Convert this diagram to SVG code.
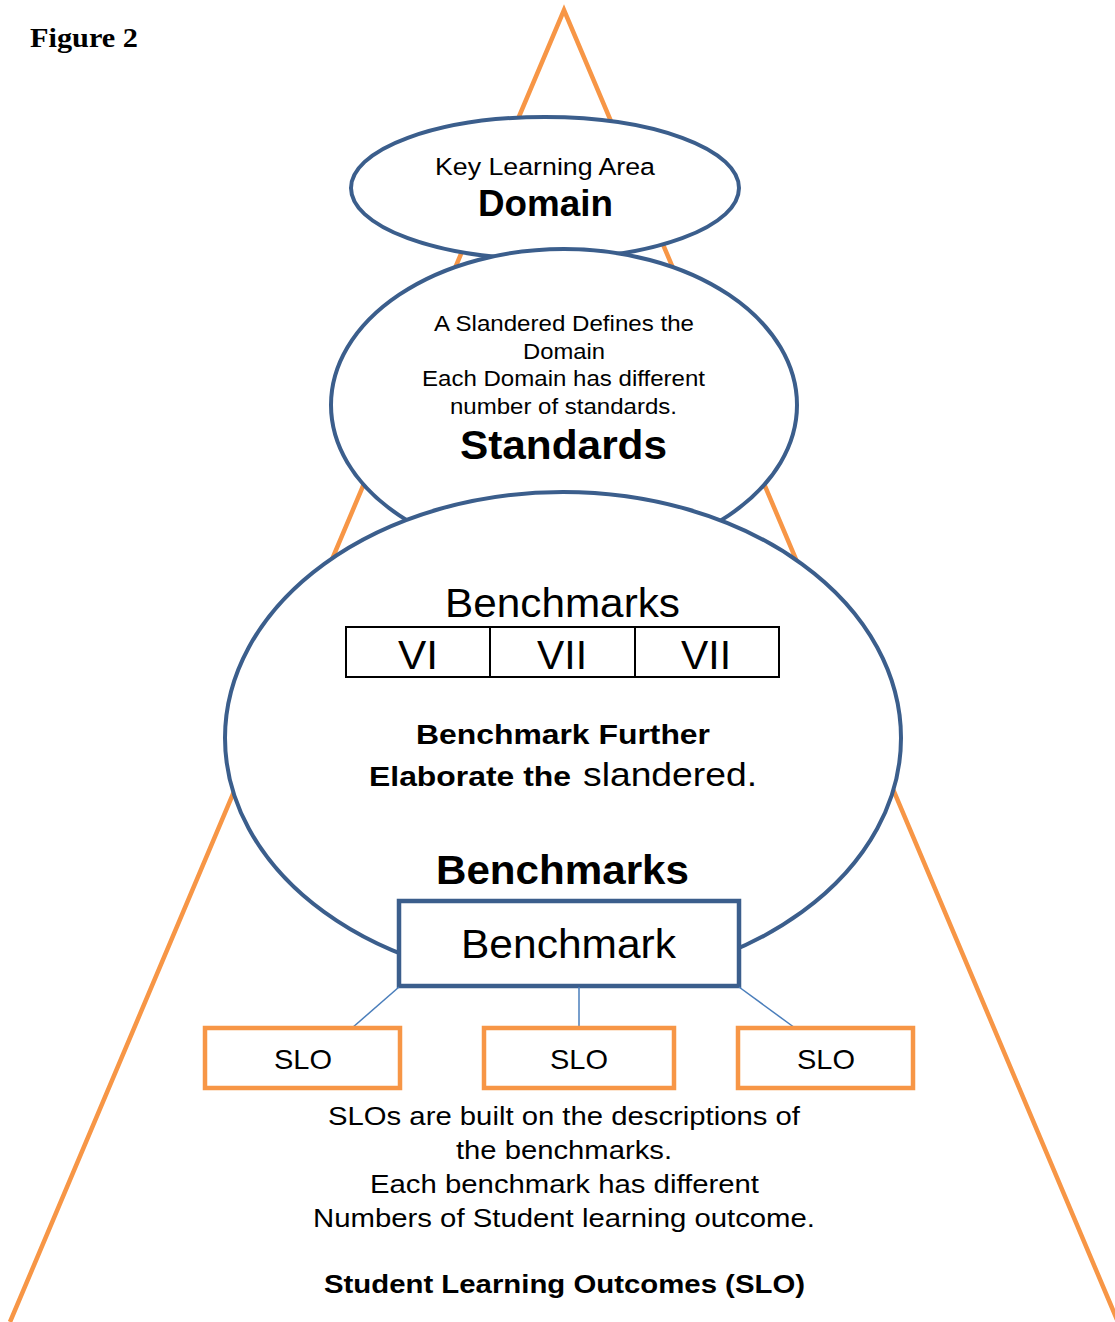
<svg xmlns="http://www.w3.org/2000/svg" width="1115" height="1322" viewBox="0 0 1115 1322">
<style>
.ell{fill:#fff;stroke:#3B5E8C;stroke-width:4}
.slo{fill:#fff;stroke:#F79646;stroke-width:4.5}
.t{font-family:"Liberation Sans",Arial,sans-serif;fill:#000}
.b{font-weight:bold}
.conn{stroke:#4A7EBB;stroke-width:1.5;fill:none}
</style>
<rect width="1115" height="1322" fill="#fff"/>
<text x="30" y="47" font-family="'Liberation Serif','Times New Roman',serif" font-weight="bold" font-size="27" textLength="108" lengthAdjust="spacingAndGlyphs">Figure 2</text>
<g id="pyramid">
<polyline points="10,1322 564,10 1118,1322" fill="none" stroke="#F79646" stroke-width="4.5" stroke-linejoin="miter"/>
</g>
<g id="domain">
<ellipse class="ell" cx="545" cy="188" rx="194" ry="71"/>
<text class="t" x="435" y="175" font-size="24.5" textLength="220" lengthAdjust="spacingAndGlyphs">Key Learning Area</text>
<text class="t b" x="478" y="216" font-size="36" textLength="135" lengthAdjust="spacingAndGlyphs">Domain</text>
</g>
<g id="standards">
<ellipse class="ell" cx="564" cy="405" rx="233" ry="156"/>
<text class="t" x="434" y="331" font-size="21.5" textLength="260" lengthAdjust="spacingAndGlyphs">A Slandered Defines the</text>
<text class="t" x="523" y="359" font-size="21.5" textLength="82" lengthAdjust="spacingAndGlyphs">Domain</text>
<text class="t" x="422" y="386" font-size="21.5" textLength="283" lengthAdjust="spacingAndGlyphs">Each Domain has different</text>
<text class="t" x="450" y="414" font-size="21.5" textLength="227" lengthAdjust="spacingAndGlyphs">number of standards.</text>
<text class="t b" x="460" y="459" font-size="40" textLength="207" lengthAdjust="spacingAndGlyphs">Standards</text>
</g>
<g id="benchmarks">
<ellipse class="ell" cx="563" cy="738" rx="338" ry="246"/>
<text class="t" x="445" y="617" font-size="40" textLength="235" lengthAdjust="spacingAndGlyphs">Benchmarks</text>
<rect x="346" y="627" width="433" height="50" fill="#fff" stroke="#000" stroke-width="2"/>
<line x1="490" y1="627" x2="490" y2="677" stroke="#000" stroke-width="2"/>
<line x1="635" y1="627" x2="635" y2="677" stroke="#000" stroke-width="2"/>
<text class="t" x="398" y="669" font-size="40" textLength="40" lengthAdjust="spacingAndGlyphs">VI</text>
<text class="t" x="537" y="669" font-size="40" textLength="50" lengthAdjust="spacingAndGlyphs">VII</text>
<text class="t" x="681" y="669" font-size="40" textLength="50" lengthAdjust="spacingAndGlyphs">VII</text>
<text class="t b" x="416" y="744" font-size="28" textLength="294" lengthAdjust="spacingAndGlyphs">Benchmark Further</text>
<text class="t b" x="369" y="786" font-size="28" textLength="202" lengthAdjust="spacingAndGlyphs">Elaborate the</text>
<text class="t" x="583" y="786" font-size="34" textLength="174" lengthAdjust="spacingAndGlyphs">slandered.</text>
<text class="t b" x="436" y="884" font-size="40" textLength="253" lengthAdjust="spacingAndGlyphs">Benchmarks</text>
</g>
<g id="benchmark">
<rect x="399" y="901" width="340" height="85" fill="#fff" stroke="#3B5E8C" stroke-width="4.5"/>
<text class="t" x="461" y="958" font-size="40" textLength="215" lengthAdjust="spacingAndGlyphs">Benchmark</text>
</g>
<g id="connectors">
<line class="conn" x1="399" y1="987" x2="352" y2="1028"/>
<line class="conn" x1="579" y1="987" x2="579" y2="1028"/>
<line class="conn" x1="739" y1="987" x2="795" y2="1028"/>
</g>
<g id="slo1">
<rect class="slo" x="205" y="1028" width="195" height="60"/>
<text class="t" x="274" y="1069" font-size="28" textLength="58" lengthAdjust="spacingAndGlyphs">SLO</text>
</g>
<g id="slo2">
<rect class="slo" x="484" y="1028" width="190" height="60"/>
<text class="t" x="550" y="1069" font-size="28" textLength="58" lengthAdjust="spacingAndGlyphs">SLO</text>
</g>
<g id="slo3">
<rect class="slo" x="738" y="1028" width="175" height="60"/>
<text class="t" x="797" y="1069" font-size="28" textLength="58" lengthAdjust="spacingAndGlyphs">SLO</text>
</g>
<g id="slo-desc">
<text class="t" x="328" y="1125" font-size="26.5" textLength="472" lengthAdjust="spacingAndGlyphs">SLOs are built on the descriptions of</text>
<text class="t" x="456" y="1159" font-size="26.5" textLength="216" lengthAdjust="spacingAndGlyphs">the benchmarks.</text>
<text class="t" x="370" y="1193" font-size="26.5" textLength="389" lengthAdjust="spacingAndGlyphs">Each benchmark has different</text>
<text class="t" x="313" y="1227" font-size="26.5" textLength="502" lengthAdjust="spacingAndGlyphs">Numbers of Student learning outcome.</text>
<text class="t b" x="324" y="1293" font-size="26" textLength="481" lengthAdjust="spacingAndGlyphs">Student Learning Outcomes (SLO)</text>
</g>
</svg>
